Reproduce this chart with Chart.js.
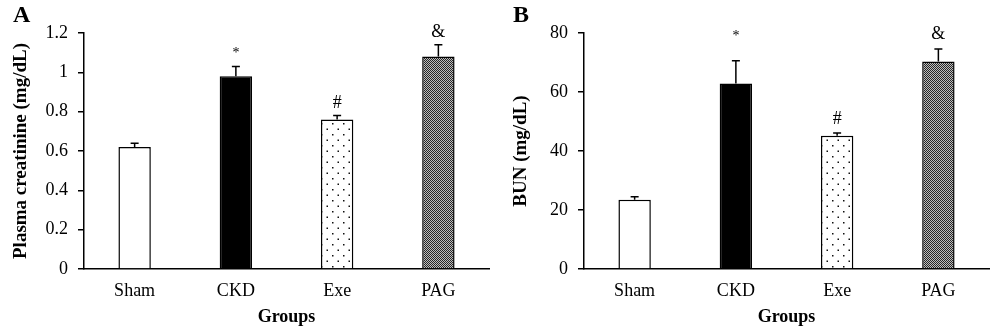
<!DOCTYPE html>
<html>
<head>
<meta charset="utf-8">
<script src="https://cdn.jsdelivr.net/npm/chart.js@4"></script>
<style>
  html, body { margin: 0; padding: 0; background: #fff; }
  .wrap { display: flex; width: 1000px; height: 332px; }
  .panel { position: relative; width: 500px; height: 332px; }
</style>
</head>
<body>
<div class="wrap">
  <div class="panel"><canvas id="chartA"></canvas></div>
  <div class="panel"><canvas id="chartB"></canvas></div>
</div>
<script>
// Data
const groups = ['Sham', 'CKD', 'Exe', 'PAG']

const creatinine = [0.62, 0.98, 0.76, 1.08]
const creatinine_err = [0.02, 0.05, 0.02, 0.06]

const bun = [23.5, 62.9, 45.2, 70.3]
const bun_err = [1.0, 7.7, 0.9, 4.3]

const marks = ['', '*', '#', '&']

const FONT = "'Liberation Serif', 'Times New Roman', serif"

// Fill patterns
function dots_pattern() {
    const c = document.createElement('canvas')
    c.width = 11; c.height = 11
    const x = c.getContext('2d')
    x.fillStyle = '#fff'
    x.fillRect(0, 0, 11, 11)
    x.fillStyle = '#111'
    x.fillRect(2, 2, 1.5, 1.5)
    x.fillRect(7.5, 7.5, 1.5, 1.5)
    return x.createPattern(c, 'repeat')
}
function checker_pattern() {
    const c = document.createElement('canvas')
    c.width = 2; c.height = 2
    const x = c.getContext('2d')
    x.fillStyle = '#bdbdbd'
    x.fillRect(0, 0, 2, 2)
    x.fillStyle = '#262626'
    x.fillRect(0, 0, 1, 1)
    x.fillRect(1, 1, 1, 1)
    return x.createPattern(c, 'repeat')
}
const fills = () => ['#ffffff', '#000000', dots_pattern(), checker_pattern()]

// error bars + significance marks, drawn from the scales
const errorBars = {
    id: 'errorBars',
    afterDatasetsDraw(chart, args, opts) {
        const { ctx, scales: { y } } = chart
        const meta = chart.getDatasetMeta(0)
        const vals = chart.data.datasets[0].data
        ctx.save()
        ctx.strokeStyle = '#000'
        ctx.lineWidth = 1.5
        meta.data.forEach((bar, i) => {
            const top = y.getPixelForValue(vals[i] + opts.err[i])
            ctx.beginPath()
            ctx.moveTo(bar.x, bar.y)
            ctx.lineTo(bar.x, top)
            ctx.moveTo(bar.x - 4, top)
            ctx.lineTo(bar.x + 4, top)
            ctx.stroke()
            const m = marks[i]
            if (m) {
                ctx.fillStyle = '#000'
                ctx.textAlign = 'center'
                ctx.textBaseline = 'middle'
                ctx.font = (m == '*' ? '14px ' : '18px ') + FONT
                ctx.fillText(m, bar.x, top - opts.gap[i])
            }
        })
        ctx.restore()
    }
}

const panelLetter = {
    id: 'panelLetter',
    afterDraw(chart, args, opts) {
        const ctx = chart.ctx
        ctx.save()
        ctx.fillStyle = '#000'
        ctx.font = 'bold 24px ' + FONT
        ctx.textBaseline = 'alphabetic'
        ctx.fillText(opts.text, 13, 22)
        ctx.restore()
    }
}

function make_chart(id, letter, values, err, gap, max, step, ytitle) {
    return new Chart(document.getElementById(id), {
        type: 'bar',
        data: {
            labels: groups,
            datasets: [{
                data: values,
                backgroundColor: fills(),
                borderColor: '#000',
                borderWidth: 1.5,
                barPercentage: 0.32,
                categoryPercentage: 1.0
            }]
        },
        options: {
            responsive: false,
            animation: false,
            layout: { padding: { top: 33, right: 11, left: 0, bottom: 0 } },
            plugins: {
                legend: { display: false },
                tooltip: { enabled: false },
                errorBars: { err: err, gap: gap },
                panelLetter: { text: letter }
            },
            scales: {
                x: {
                    grid: { display: false },
                    border: { color: '#000', width: 1.5 },
                    ticks: { color: '#000', font: { family: FONT, size: 18 }, padding: 3 },
                    title: {
                        display: true, text: 'Groups', color: '#000',
                        font: { family: FONT, size: 18, weight: 'bold' },
                        padding: { top: 4 }
                    },
                    afterFit: s => { s.height = 63 }
                },
                y: {
                    min: 0, max: max,
                    grid: { drawOnChartArea: false, tickLength: 6, color: '#000', lineWidth: 1.5 },
                    border: { color: '#000', width: 1.5 },
                    ticks: {
                        stepSize: step, color: '#000', padding: 10,
                        font: { family: FONT, size: 18 },
                        callback: v => String(+v.toFixed(1))
                    },
                    title: {
                        display: true, text: ytitle, color: '#000',
                        font: { family: FONT, size: 19, weight: 'bold' },
                        padding: { top: 10, bottom: 4 }
                    },
                    afterFit: s => { s.width = 84 }
                }
            }
        },
        plugins: [errorBars, panelLetter]
    })
}

document.getElementById('chartA').width = 500
document.getElementById('chartA').height = 332
document.getElementById('chartB').width = 500
document.getElementById('chartB').height = 332

make_chart('chartA', 'A', creatinine, creatinine_err, [0, 13, 12, 13], 1.2, 0.2, 'Plasma creatinine (mg/dL)')
make_chart('chartB', 'B', bun, bun_err, [0, 24, 14, 15], 80, 20, 'BUN (mg/dL)')
</script>
</body>
</html>
